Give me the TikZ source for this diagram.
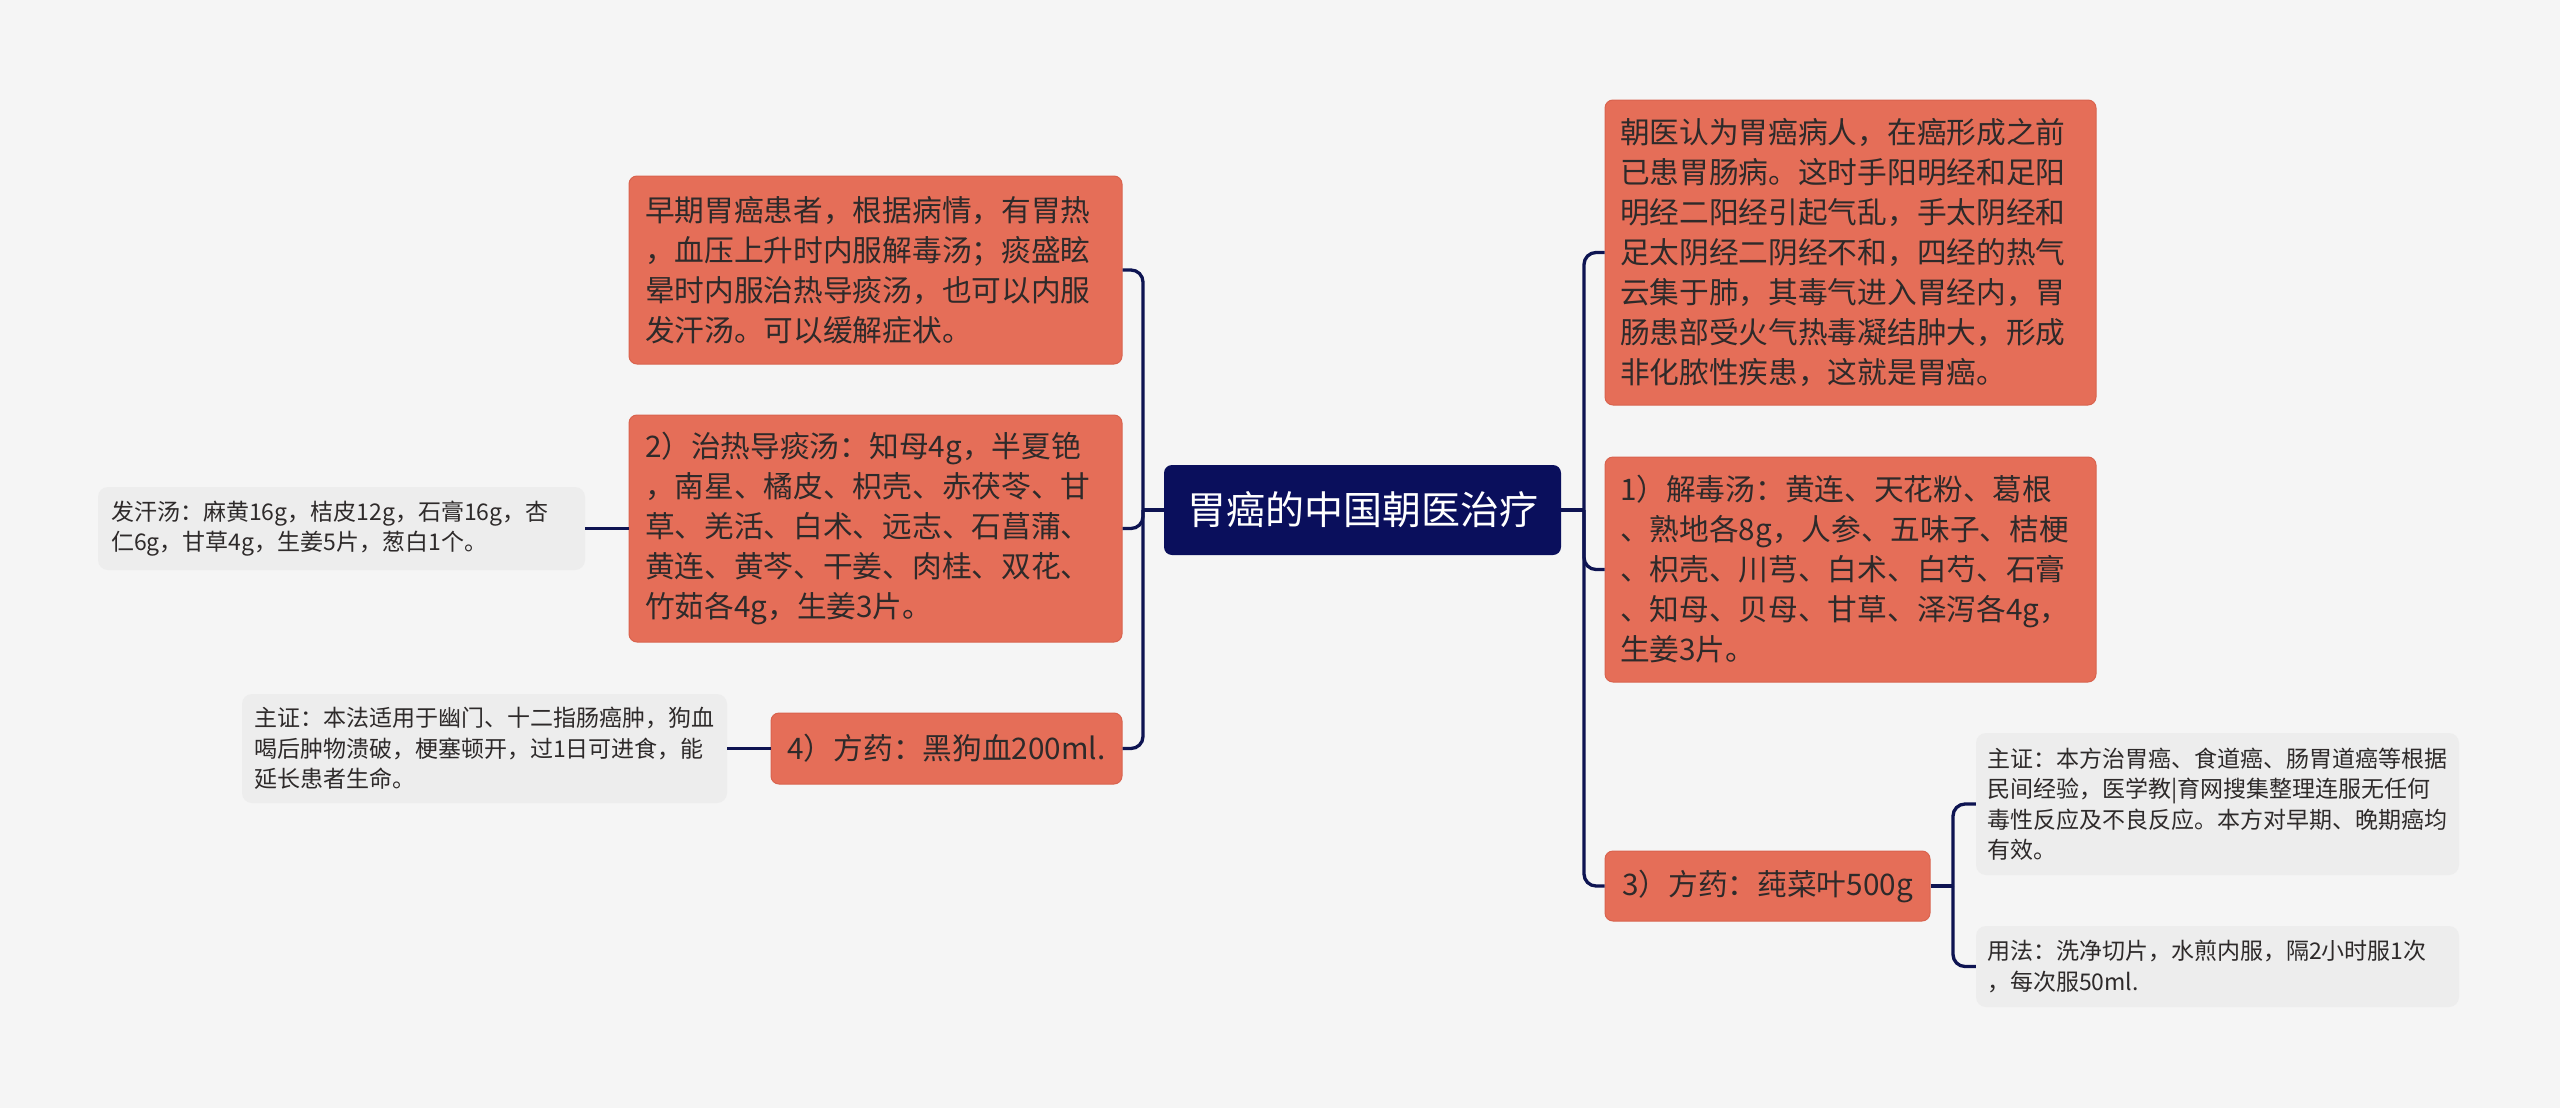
\documentclass[tikz,border=0pt]{standalone}
\usepackage{fontspec}
\setmainfont{Noto Sans CJK SC}
\definecolor{bg}{HTML}{F5F5F5}
\definecolor{coralF}{HTML}{E56E58}
\definecolor{coralB}{HTML}{D9634E}
\definecolor{grayF}{HTML}{EDEDED}
\definecolor{navy}{HTML}{0A0F5C}
\definecolor{linkc}{HTML}{0E1452}
\definecolor{txt}{HTML}{2E2A2A}
\begin{document}
\begin{tikzpicture}[x=1pt,y=-1pt,
  coral/.style={draw=coralB, fill=coralF, rounded corners=8, line width=1pt, text=txt, align=left, inner sep=0pt, font=\fontsize{29.7}{40}\selectfont},
  grayb/.style={fill=grayF, rounded corners=10, text=txt, align=left, inner sep=0pt, font=\fontsize{23}{30.5}\selectfont},
  rootb/.style={fill=navy, rounded corners=8, text=white, inner sep=0pt, font=\fontsize{39}{46}\selectfont},
  link/.style={draw=linkc, line width=3.3pt, rounded corners=12}]
\fill[bg] (0,0) rectangle (2560,1108);
\useasboundingbox (0,0) rectangle (2560,1108);

\node[rootb, minimum width=397, minimum height=90] (R) at (1362.5,510) {胃癌的中国朝医治疗};

\node[coral, minimum width=493, minimum height=188, text width=461] (A) at (875.5,270) {早期胃癌患者，根据病情，有胃热\\，血压上升时内服解毒汤；痰盛眩\\晕时内服治热导痰汤，也可以内服\\发汗汤。可以缓解症状。};

\node[coral, minimum width=493, minimum height=227, text width=461] (B) at (875.5,528.5) {2）治热导痰汤：知母4g，半夏铯\\，南星、橘皮、枳壳、赤茯苓、甘\\草、羌活、白术、远志、石菖蒲、\\黄连、黄芩、干姜、肉桂、双花、\\竹茹各4g，生姜3片。};

\node[grayb, minimum width=487, minimum height=83, text width=461] (F) at (341.5,528.5) {发汗汤：麻黄16g，桔皮12g，石膏16g，杏\\仁6g，甘草4g，生姜5片，葱白1个。};

\node[coral, minimum width=351, minimum height=71] (G) at (946.5,748.5) {4）方药：黑狗血200ml.};

\node[grayb, minimum width=485, minimum height=109, text width=461] (H) at (484.5,748.5) {主证：本法适用于幽门、十二指肠癌肿，狗血\\喝后肿物溃破，梗塞顿开，过1日可进食，能\\延长患者生命。};

\node[coral, minimum width=491, minimum height=305, text width=461] (C) at (1850.5,252.5) {朝医认为胃癌病人，在癌形成之前\\已患胃肠病。这时手阳明经和足阳\\明经二阳经引起气乱，手太阴经和\\足太阴经二阴经不和，四经的热气\\云集于肺，其毒气进入胃经内，胃\\肠患部受火气热毒凝结肿大，形成\\非化脓性疾患，这就是胃癌。};

\node[coral, minimum width=491, minimum height=225, text width=461] (D) at (1850.5,569.5) {1）解毒汤：黄连、天花粉、葛根\\、熟地各8g，人参、五味子、桔梗\\、枳壳、川芎、白术、白芍、石膏\\、知母、贝母、甘草、泽泻各4g，\\生姜3片。};

\node[coral, minimum width=325, minimum height=70] (E) at (1767.5,886) {3）方药：莼菜叶500g};

\node[grayb, minimum width=483, minimum height=142, text width=461] (J) at (2217.5,804) {主证：本方治胃癌、食道癌、肠胃道癌等根据\\民间经验，医学教|育网搜集整理连服无任何\\毒性反应及不良反应。本方对早期、晚期癌均\\有效。};

\node[grayb, minimum width=483, minimum height=81, text width=461] (K) at (2217.5,966.5) {用法：洗净切片，水煎内服，隔2小时服1次\\，每次服50ml.};

\coordinate (Lj) at (1143,510);
\coordinate (Rj) at (1584,510);
\coordinate (Ej) at (1953,886);

\draw[link] (R.west) -- (Lj);
\draw[link] (Lj) |- (A.east);
\draw[link] (Lj) |- (B.east);
\draw[link] (Lj) |- (G.east);
\draw[link] (B.west) -- (F.east);
\draw[link] (G.west) -- (H.east);

\draw[link] (R.east) -- (Rj);
\draw[link] (Rj) |- (C.west);
\draw[link] (Rj) |- (D.west);
\draw[link] (Rj) |- (E.west);
\draw[link] (E.east) -- (Ej);
\draw[link] (Ej) |- (J.west);
\draw[link] (Ej) |- (K.west);
\end{tikzpicture}
\end{document}
